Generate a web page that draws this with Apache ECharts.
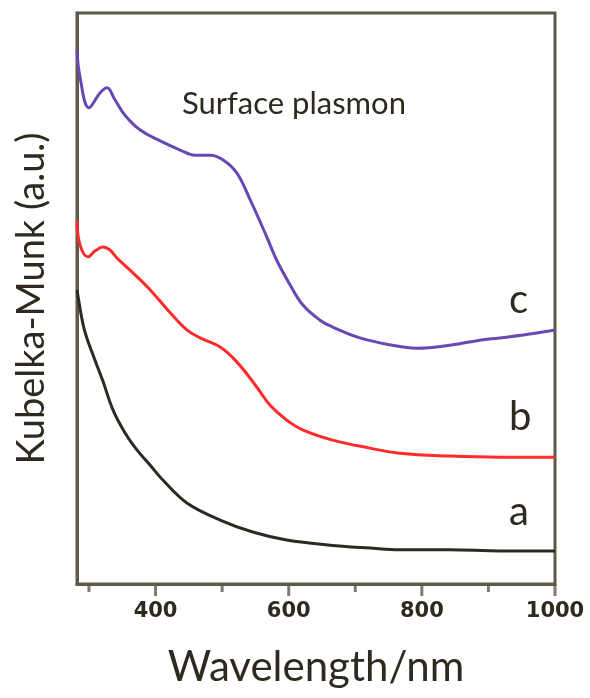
<!DOCTYPE html>
<html>
<head>
<meta charset="utf-8">
<script src="https://cdn.jsdelivr.net/npm/echarts@6/dist/echarts.min.js"></script>
<style>html,body{margin:0;padding:0;background:#fff}#chart{width:590px;height:698px}</style>
</head>
<body>
<div id="chart"></div>
<script>
// Wavelength (nm) and Kubelka-Munk (arbitrary units) for each sample
const waveA = [282, 291, 297, 309, 321, 336, 354, 372, 392, 411, 447, 497, 546, 597, 662, 722, 767, 842, 917, 1000];
const kmA   = [51.5, 45.5, 43.0, 39.2, 35.5, 30.5, 26.5, 23.5, 20.8, 18.2, 14.2, 11.2, 9.1, 7.7, 6.8, 6.3, 6.0, 6.0, 5.8, 5.8];

const waveB = [282, 286.5, 298.5, 309, 321, 331.5, 342, 366, 392, 422, 447, 467, 497, 522, 552, 572, 597, 621, 666, 722, 767, 842, 917, 1000];
const kmB   = [63.7, 59.4, 57.3, 58.3, 59.0, 58.5, 57.1, 54.5, 51.5, 47.5, 44.5, 43.1, 41.5, 38.9, 34.5, 31.3, 28.7, 27.0, 25.2, 23.8, 22.9, 22.4, 22.2, 22.2];

const waveC = [282, 286.5, 300, 316.5, 327, 339, 354, 377, 407, 437, 459, 482, 501, 522, 542, 567, 582, 602, 621, 647, 666, 707, 752, 792, 847, 887, 917, 962, 1000];
const kmC   = [93.5, 88.8, 83.4, 86.0, 86.9, 84.8, 82.1, 79.5, 77.6, 76.0, 75.1, 75.1, 74.3, 72.0, 67.3, 60.8, 56.7, 52.4, 48.9, 46.2, 45.0, 43.1, 41.9, 41.3, 41.9, 42.7, 43.1, 43.8, 44.5];

const majorTicks = [400, 600, 800, 1000];
const minorTicks = [300, 500, 700, 900];
const seriesNames = ['a', 'b', 'c'];
const xTitle = 'Wavelength/nm';
const yTitle = 'Kubelka-Munk (a.u.)';
const note = 'Surface plasmon';

const FONT = 'Lato, "Open Sans", sans-serif';
const INK = '#2e2a20';
const FRAME = '#5f5948';

const zip = (xs, ys) => xs.map((x, i) => [x, ys[i]]);

// Axis tick marks, placed through the x scale at the axis baseline (y = axis min)
const tickSeries = (values, len) => ({
  type: 'scatter', data: values.map(v => [v, 0]), symbol: 'rect',
  symbolSize: [3, len], symbolOffset: [0, '50%'], clip: false, silent: true, z: 5,
  itemStyle: {color: FRAME}
});

const chart = echarts.init(document.getElementById('chart'), null, {renderer: 'canvas'});
chart.setOption({
  animation: false,
  backgroundColor: '#ffffff',
  grid: {left: 77, right: 35, top: 13, bottom: 114, show: true, borderColor: FRAME, borderWidth: 3, containLabel: false},
  xAxis: {
    type: 'value', min: 282, max: 1000,
    axisLine: {show: true, lineStyle: {color: FRAME, width: 3}},
    axisTick: {show: false},
    axisLabel: {show: true, customValues: majorTicks, formatter: v => String(v), color: INK,
      fontFamily: '"DejaVu Sans", sans-serif', fontWeight: 'bold', fontSize: 21, margin: 17},
    splitLine: {show: false},
    name: xTitle, nameLocation: 'middle', nameGap: 62,
    nameTextStyle: {color: INK, fontFamily: FONT, fontSize: 42}
  },
  yAxis: {
    type: 'value', min: 0, max: 100,
    axisLine: {show: true, lineStyle: {color: FRAME, width: 3}},
    axisTick: {show: false}, axisLabel: {show: false}, splitLine: {show: false},
    name: yTitle, nameLocation: 'middle', nameGap: 26, nameRotate: 90,
    nameTextStyle: {color: INK, fontFamily: FONT, fontSize: 38}
  },
  series: [
    {name: seriesNames[0], type: 'line', data: zip(waveA, kmA), smooth: 0.35, showSymbol: false, lineStyle: {color: '#2b2a22', width: 3}},
    {name: seriesNames[1], type: 'line', data: zip(waveB, kmB), smooth: 0.4, showSymbol: false, lineStyle: {color: '#ff2a2a', width: 3}},
    {name: seriesNames[2], type: 'line', data: zip(waveC, kmC), smooth: 0.4, showSymbol: false, lineStyle: {color: '#6a48b3', width: 3}},
    tickSeries(majorTicks, 12),
    tickSeries(minorTicks, 8)
  ],
  graphic: [
    {type: 'text', left: 182, top: 88, style: {text: note, fill: INK, font: '31px ' + FONT}},
    {type: 'text', left: 509, top: 280, style: {text: seriesNames[2], fill: INK, font: '40px ' + FONT}},
    {type: 'text', left: 509, top: 397, style: {text: seriesNames[1], fill: INK, font: '40px ' + FONT}},
    {type: 'text', left: 509, top: 492, style: {text: seriesNames[0], fill: INK, font: '40px ' + FONT}}
  ]
});
</script>
</body>
</html>
